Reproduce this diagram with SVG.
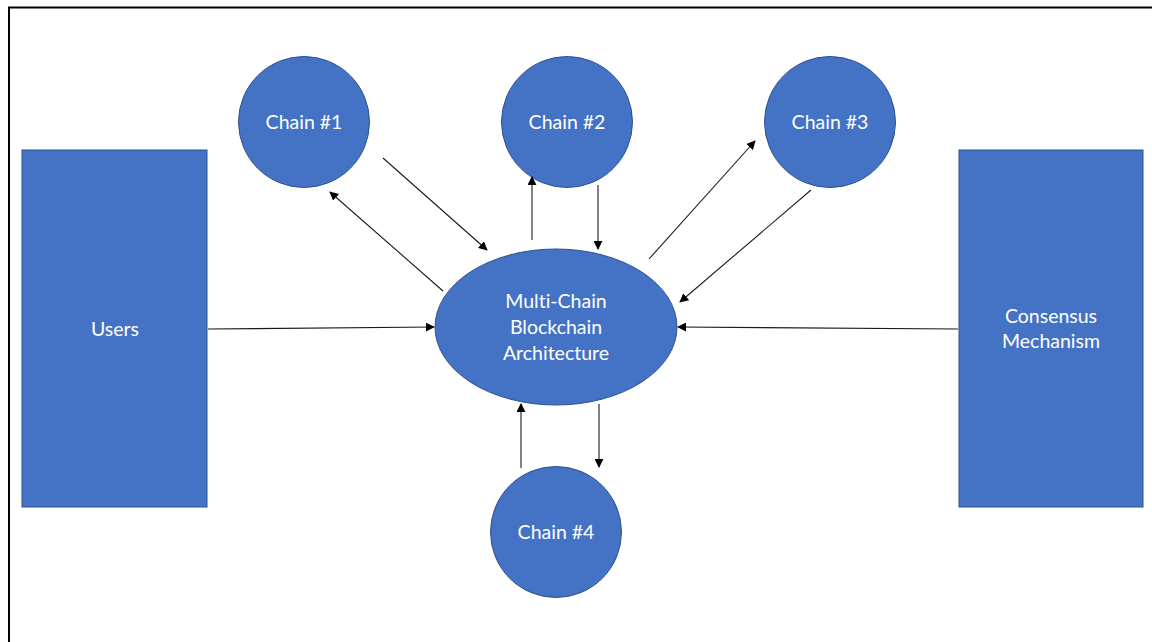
<svg xmlns="http://www.w3.org/2000/svg" width="1152" height="642" viewBox="0 0 1152 642">
  <style>
    .shape { fill: #4472c4; stroke: #2f528f; stroke-width: 1; }
    .label { font-family: Lato, "Open Sans", "Liberation Sans", sans-serif; font-size: 19.5px; fill: #ffffff; text-anchor: middle; dominant-baseline: central; font-variant-ligatures: none; }
    .link { stroke: #1a1a1a; stroke-width: 1.1; fill: none; marker-end: url(#head); }
  </style>
  <defs>
    <marker id="head" viewBox="0 0 10 10" refX="9" refY="5" markerWidth="9" markerHeight="9" markerUnits="userSpaceOnUse" orient="auto">
      <path d="M0,0 L10,5 L0,10 z" fill="#000000"/>
    </marker>
  </defs>
  <rect width="1152" height="642" fill="#ffffff"/>
  <!-- frame -->
  <path d="M9,642 L9,7.5 L1152,7.5" fill="none" stroke="#000000" stroke-width="2"/>

  <g id="users">
    <rect class="shape" x="22" y="150" width="185" height="357"/>
    <text class="label" x="115" y="328">Users</text>
  </g>
  <g id="consensus">
    <rect class="shape" x="959" y="150" width="184" height="357"/>
    <text class="label" x="1051" y="315">Consensus</text>
    <text class="label" x="1051" y="340">Mechanism</text>
  </g>
  <g id="core">
    <ellipse class="shape" cx="556" cy="327" rx="121" ry="78"/>
    <text class="label" x="556" y="300">Multi-Chain</text>
    <text class="label" x="556" y="326">Blockchain</text>
    <text class="label" x="556" y="352">Architecture</text>
  </g>
  <g id="chain1">
    <circle class="shape" cx="304" cy="122" r="65.5"/>
    <text class="label" x="304" y="121">Chain #1</text>
  </g>
  <g id="chain2">
    <circle class="shape" cx="567" cy="122" r="65.5"/>
    <text class="label" x="567" y="121">Chain #2</text>
  </g>
  <g id="chain3">
    <circle class="shape" cx="830" cy="122" r="65.5"/>
    <text class="label" x="830" y="121">Chain #3</text>
  </g>
  <g id="chain4">
    <circle class="shape" cx="556" cy="532" r="65.5"/>
    <text class="label" x="556" y="531">Chain #4</text>
  </g>

  <g id="connectors">
    <line class="link" x1="443" y1="291" x2="330" y2="192"/>
    <line class="link" x1="383" y1="158" x2="487" y2="250"/>
    <line class="link" x1="532" y1="240" x2="532" y2="177"/>
    <line class="link" x1="598" y1="185" x2="598" y2="249"/>
    <line class="link" x1="649" y1="259" x2="755" y2="141"/>
    <line class="link" x1="811" y1="190" x2="680" y2="302"/>
    <line class="link" x1="208" y1="329" x2="434" y2="327"/>
    <line class="link" x1="958" y1="329" x2="678" y2="327"/>
    <line class="link" x1="521" y1="468" x2="521" y2="404"/>
    <line class="link" x1="599" y1="404" x2="599" y2="467"/>
  </g>
</svg>
